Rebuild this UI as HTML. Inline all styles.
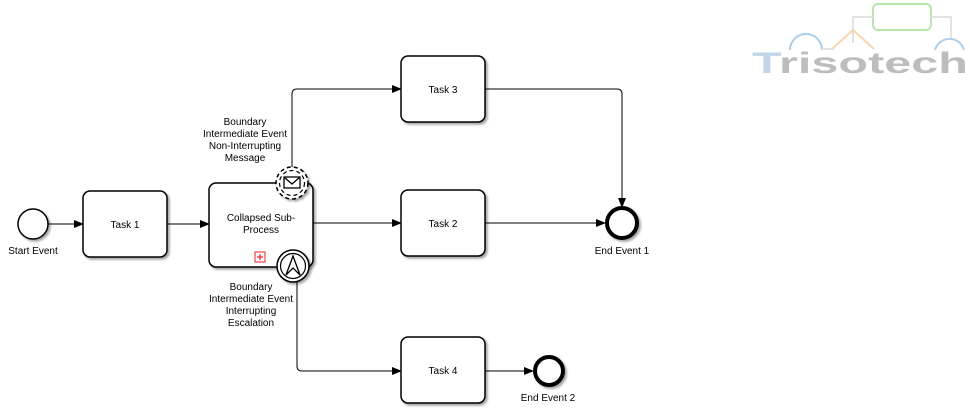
<!DOCTYPE html>
<html><head><meta charset="utf-8"><style>
body{margin:0;background:#fff;width:970px;height:410px;overflow:hidden}
text{font-family:"Liberation Sans",sans-serif;font-size:10px;fill:#000}
</style></head><body>
<svg width="970" height="410" viewBox="0 0 970 410" xmlns="http://www.w3.org/2000/svg">
<defs>
<marker id="a" markerWidth="10" markerHeight="8" refX="9" refY="4" orient="auto" markerUnits="userSpaceOnUse">
<path d="M0,0 L10,4 L0,8 z" fill="#000"/></marker>
<filter id="s" x="-20%" y="-20%" width="150%" height="150%"><feDropShadow dx="2" dy="2" stdDeviation="1" flood-color="#000" flood-opacity="0.35"/></filter>
</defs>
<!-- logo -->
<g opacity="0.55">
<rect x="873" y="4" width="58" height="26" rx="5" fill="none" stroke="#7fd36e" stroke-width="2"/>
<path d="M853,43 V17 H873 M931,17 H951 V38" fill="none" stroke="#ccc" stroke-width="2"/>
<path d="M832,49 L853,30 L874,49" fill="none" stroke="#f6b36a" stroke-width="2"/>
<path d="M790,50 A16,16 0 0 1 822,50" fill="none" stroke="#6aa6d8" stroke-width="2"/>
<path d="M935,50 A15,15 0 0 1 964,50" fill="none" stroke="#6aa6d8" stroke-width="2"/>
<path d="M822,49 H834" stroke="#ccc" stroke-width="2"/>
<text x="752" y="73" textLength="216" lengthAdjust="spacingAndGlyphs" style="font-size:30px;font-weight:bold;fill:#888"><tspan style="fill:#8fb4d8">T</tspan>risotech</text>
</g>
<!-- connectors -->
<g fill="none" stroke="#000" stroke-width="1">
<line x1="48" y1="224" x2="83" y2="224" marker-end="url(#a)"/>
<line x1="167" y1="224" x2="209" y2="224" marker-end="url(#a)"/>
<line x1="313" y1="223" x2="401" y2="223" marker-end="url(#a)"/>
<path d="M292,167 V94 Q292,89 297,89 H401" marker-end="url(#a)"/>
<path d="M485,89 H617 Q622,89 622,94 V207" marker-end="url(#a)"/>
<line x1="485" y1="223" x2="605" y2="223" marker-end="url(#a)"/>
<path d="M297,282 V366 Q297,371 302,371 H401" marker-end="url(#a)"/>
<line x1="485" y1="371" x2="533" y2="371" marker-end="url(#a)"/>
</g>
<!-- start event -->
<circle cx="33" cy="224" r="15" fill="#fff" stroke="#000" stroke-width="1.5" filter="url(#s)"/>
<text x="33" y="254" text-anchor="middle">Start Event</text>
<!-- tasks -->
<g stroke="#000" stroke-width="1.5" fill="#fff" filter="url(#s)">
<rect x="83" y="191" width="84" height="66" rx="7"/>
<rect x="209" y="183" width="104" height="84" rx="7"/>
<rect x="401" y="56" width="84" height="66" rx="7"/>
<rect x="401" y="190" width="84" height="66" rx="7"/>
<rect x="401" y="337" width="84" height="66" rx="7"/>
</g>
<text x="125" y="228" text-anchor="middle">Task 1</text>
<text x="261" y="221" text-anchor="middle">Collapsed Sub-</text>
<text x="261" y="233" text-anchor="middle">Process</text>
<text x="443" y="93" text-anchor="middle">Task 3</text>
<text x="443" y="227" text-anchor="middle">Task 2</text>
<text x="443" y="374" text-anchor="middle">Task 4</text>
<!-- subprocess marker -->
<rect x="255" y="252" width="10" height="10" fill="none" stroke="#e22" stroke-width="1"/>
<path d="M260,254 V260 M257,257 H263" stroke="#e22" stroke-width="1.2"/>
<!-- message boundary (non-interrupting) -->
<circle cx="292" cy="183" r="16" fill="#fff" stroke="#000" stroke-width="1.5" stroke-dasharray="4,3" filter="url(#s)"/>
<circle cx="292" cy="183" r="12.5" fill="#fff" stroke="#000" stroke-width="1.2" stroke-dasharray="4,3"/>
<rect x="284" y="177" width="16" height="11" fill="#fff" stroke="#000" stroke-width="1.3"/>
<path d="M284,177 L292,184 L300,177" fill="none" stroke="#000" stroke-width="1.3"/>
<!-- escalation boundary -->
<circle cx="293" cy="266" r="16" fill="#fff" stroke="#000" stroke-width="1.5" filter="url(#s)"/>
<circle cx="293" cy="266" r="12.5" fill="none" stroke="#000" stroke-width="1.2"/>
<path d="M293,256 L300,275 L293,268 L286,275 z" fill="#fff" stroke="#000" stroke-width="1.3"/>
<!-- labels -->
<g text-anchor="middle">
<text x="245" y="125">Boundary</text>
<text x="245" y="137">Intermediate Event</text>
<text x="245" y="149">Non-Interrupting</text>
<text x="245" y="161">Message</text>
<text x="251" y="290">Boundary</text>
<text x="251" y="302">Intermediate Event</text>
<text x="251" y="314">Interrupting</text>
<text x="251" y="326">Escalation</text>
</g>
<!-- end events -->
<circle cx="622" cy="223" r="15" fill="#fff" stroke="#000" stroke-width="4" filter="url(#s)"/>
<text x="622" y="254" text-anchor="middle">End Event 1</text>
<circle cx="549" cy="371" r="14" fill="#fff" stroke="#000" stroke-width="4" filter="url(#s)"/>
<text x="548" y="401" text-anchor="middle">End Event 2</text>
</svg>
</body></html>
